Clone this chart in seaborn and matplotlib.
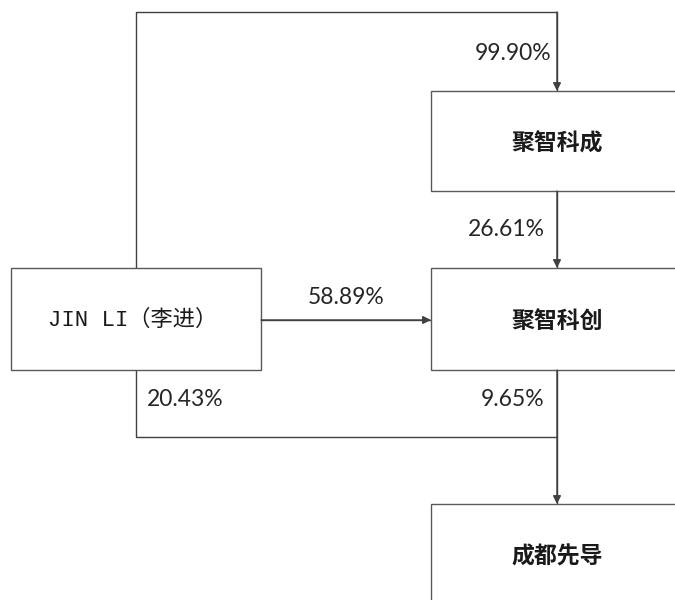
import matplotlib.pyplot as plt
import seaborn as sns
import pandas as pd
from matplotlib.patches import Rectangle

# 股权结构数据
entities = ["JIN LI（李进）", "聚智科成", "聚智科创", "成都先导"]
share_labels = ["99.90%", "26.61%", "58.89%", "20.43%", "9.65%"]
share_from = ["JIN LI（李进）", "聚智科成", "JIN LI（李进）", "JIN LI（李进）", "聚智科创"]
share_to = ["聚智科成", "聚智科创", "聚智科创", "成都先导", "成都先导"]

# 版面 (像素坐标)
boxes = {
    "JIN LI（李进）": (11, 268, 250, 102),
    "聚智科成": (431, 91, 300, 100),
    "聚智科创": (431, 268, 300, 102),
    "成都先导": (431, 504, 300, 120),
}
routes = [
    [(136, 268), (136, 12), (557, 12), (557, 91)],
    [(557, 191), (557, 268)],
    [(261, 320), (431, 320)],
    [(136, 370), (136, 437), (557, 437)],
    [(557, 370), (557, 504)],
]
arrow_at_end = [True, True, True, False, True]
label_pos = [(551, 53, "right"), (545, 230, "right"), (346, 297, "center"),
             (147, 400, "left"), (544, 400, "right")]

sns.set_style("white")
plt.rcParams['font.family'] = ['Noto Sans CJK SC', 'DejaVu Sans']

fig = plt.figure(figsize=(6.75, 6), dpi=100)
ax = fig.add_axes([0, 0, 1, 1])
ax.set_xlim(0, 675)
ax.set_ylim(600, 0)
ax.axis("off")

line_color = "#404040"
box_color = "#595959"

for name in entities:
    x, y, w, h = boxes[name]
    ax.add_patch(Rectangle((x, y), w, h, facecolor="white", edgecolor=box_color, lw=1.0, zorder=2))
    if name.startswith("JIN"):
        ax.text(x + w / 2 - 3, y + h / 2 + 1, name, ha="center", va="center", fontsize=16,
                family=['Liberation Mono', 'Noto Sans CJK SC'], color="#1a1a1a", zorder=3)
    else:
        ax.text(x + 126, y + 53, name, ha="center", va="center", fontsize=16.5,
                fontweight="bold", color="#1a1a1a", zorder=3)

for i, pts in enumerate(routes):
    df = pd.DataFrame(pts, columns=["x", "y"])
    sns.lineplot(data=df, x="x", y="y", sort=False, estimator=None, ax=ax,
                 color=line_color, lw=1.0, zorder=1)
    if arrow_at_end[i]:
        (x0, y0), (x1, y1) = pts[-2], pts[-1]
        ax.annotate("", xy=(x1, y1), xytext=(x0, y0),
                    arrowprops=dict(arrowstyle="-|>", color=line_color, lw=1.0,
                                    mutation_scale=12, shrinkA=0, shrinkB=0),
                    zorder=4)

for lbl, (lx, ly, ha) in zip(share_labels, label_pos):
    ax.text(lx, ly, lbl, ha=ha, va="center", fontsize=16.5, family=['Lato', 'DejaVu Sans'],
            color="#262626")

ax.set_xlabel("")
ax.set_ylabel("")
fig.savefig("out.png", dpi=100)
